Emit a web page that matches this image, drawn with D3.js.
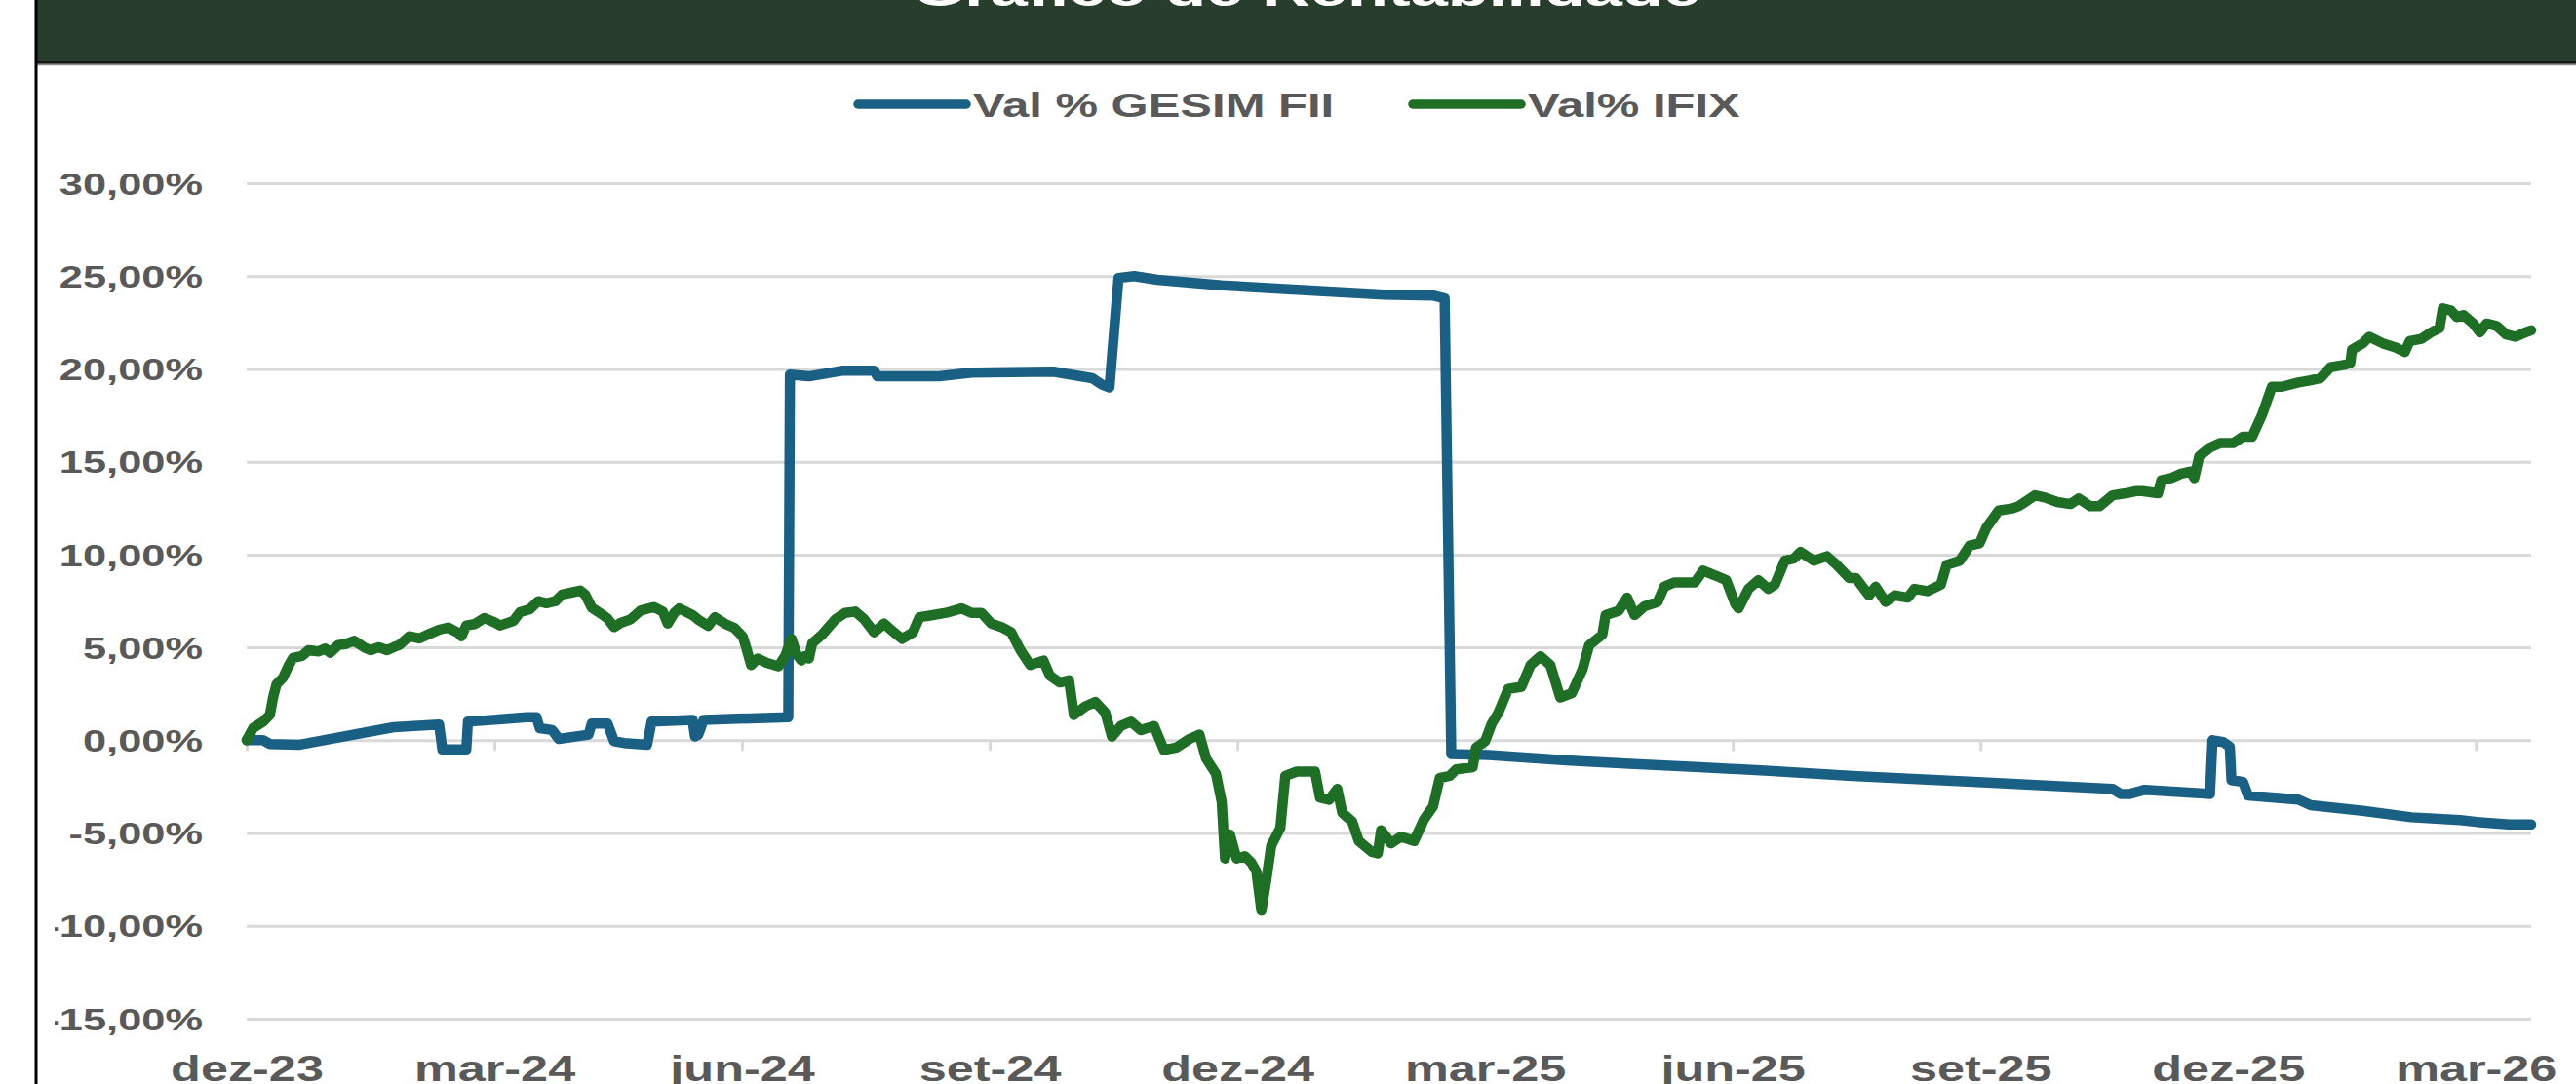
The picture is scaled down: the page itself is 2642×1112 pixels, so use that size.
<!DOCTYPE html>
<html>
<head>
<meta charset="utf-8">
<script src="https://cdn.jsdelivr.net/npm/d3@7"></script>
<style>
  html, body { margin: 0; padding: 0; background: #fff; }
  svg { display: block; }
  text { font-family: "Liberation Sans", Arial, sans-serif; font-weight: bold; }
</style>
</head>
<body>
<svg id="chart"></svg>
<script>
// series names and tick labels
const seriesNames = ["Val % GESIM FII", "Val% IFIX"];
const xTickMonths = [0, 3, 6, 9, 12, 15, 18, 21, 24, 27]; // months since dez-23
const xTickLabels = ["dez-23", "mar-24", "jun-24", "set-24", "dez-24", "mar-25", "jun-25", "set-25", "dez-25", "mar-26"];
const yTicks = [30, 25, 20, 15, 10, 5, 0, -5, -10, -15];
const lastMonth = 27.67;

// [months since dez-23, % change]
const gesim = [
  [0, 0], [0.2, 0], [0.28, -0.2], [0.63, -0.25], [1.78, 0.7], [2.33, 0.85], [2.37, -0.5], [2.66, -0.5],
  [2.68, 1.0], [3.0, 1.1], [3.39, 1.24], [3.51, 1.24], [3.55, 0.65], [3.7, 0.55], [3.78, 0.07], [4.14, 0.3],
  [4.18, 0.9], [4.37, 0.9], [4.45, -0.05], [4.57, -0.15], [4.85, -0.25], [4.905, 1.0], [5.4, 1.1], [5.43, 0.2],
  [5.47, 0.3], [5.535, 1.1], [6.56, 1.24], [6.58, 19.7], [6.81, 19.6], [7.21, 19.9], [7.6, 19.9], [7.64, 19.6],
  [8.39, 19.6], [8.78, 19.8], [9.77, 19.85], [10.24, 19.5], [10.36, 19.15], [10.45, 19.0], [10.56, 24.9],
  [10.75, 25.0], [11.03, 24.8], [11.81, 24.5], [12.21, 24.4], [12.99, 24.2], [13.78, 24.0], [14.37, 23.95],
  [14.51, 23.8], [14.59, -0.75], [15.04, -0.8], [16.03, -1.1], [16.81, -1.28], [17.6, -1.45], [18.39, -1.64],
  [19.45, -1.92], [21.03, -2.27], [22.6, -2.62], [22.7, -2.9], [22.8, -2.9], [22.99, -2.67], [23.66, -2.86],
  [23.78, -2.9], [23.81, 0], [23.94, -0.1], [24.02, -0.35], [24.04, -2.15], [24.18, -2.25], [24.24, -2.97],
  [24.85, -3.2], [25.0, -3.5], [25.63, -3.8], [26.22, -4.15], [26.81, -4.3], [27.01, -4.4], [27.4, -4.54],
  [27.67, -4.54]
];

const ifix = [
  [0, 0], [0.08, 0.66], [0.2, 1.0], [0.28, 1.36], [0.32, 2.3], [0.36, 3.0], [0.44, 3.37], [0.5, 3.95],
  [0.56, 4.43], [0.67, 4.54], [0.75, 4.85], [0.87, 4.78], [0.95, 4.94], [1.01, 4.71], [1.11, 5.13], [1.2, 5.18],
  [1.3, 5.36], [1.42, 5.01], [1.5, 4.85], [1.6, 5.01], [1.7, 4.85], [1.78, 5.01], [1.85, 5.13], [1.97, 5.6],
  [2.09, 5.48], [2.21, 5.72], [2.33, 5.95], [2.44, 6.07], [2.56, 5.79], [2.6, 5.6], [2.66, 6.18], [2.76, 6.25],
  [2.88, 6.58], [3.0, 6.35], [3.07, 6.18], [3.23, 6.42], [3.31, 6.89], [3.43, 7.06], [3.53, 7.49], [3.63, 7.38],
  [3.74, 7.49], [3.82, 7.85], [3.94, 7.96], [4.04, 8.06], [4.1, 7.85], [4.18, 7.14], [4.3, 6.79], [4.37, 6.56],
  [4.45, 6.09], [4.53, 6.32], [4.65, 6.51], [4.77, 6.98], [4.93, 7.17], [5.04, 6.93], [5.1, 6.28], [5.18, 6.86],
  [5.24, 7.1], [5.4, 6.74], [5.48, 6.46], [5.59, 6.16], [5.67, 6.63], [5.79, 6.28], [5.91, 6.04], [6.01, 5.57],
  [6.05, 4.99], [6.11, 4.05], [6.19, 4.4], [6.3, 4.17], [6.44, 3.98], [6.52, 4.52], [6.6, 5.46], [6.66, 4.64],
  [6.72, 4.29], [6.76, 4.52], [6.81, 4.4], [6.85, 5.22], [6.97, 5.69], [7.13, 6.51], [7.25, 6.86], [7.37, 6.93],
  [7.48, 6.51], [7.6, 5.81], [7.72, 6.28], [7.84, 5.81], [7.94, 5.46], [8.07, 5.81], [8.15, 6.63], [8.31, 6.74],
  [8.47, 6.86], [8.66, 7.1], [8.78, 6.86], [8.9, 6.86], [9.02, 6.28], [9.14, 6.1], [9.26, 5.81], [9.37, 4.87],
  [9.49, 4.05], [9.65, 4.29], [9.73, 3.47], [9.85, 3.11], [9.96, 3.23], [10.02, 1.36], [10.16, 1.83], [10.28, 2.06],
  [10.4, 1.48], [10.48, 0.19], [10.59, 0.77], [10.71, 1.0], [10.83, 0.54], [10.99, 0.77], [11.11, -0.52],
  [11.26, -0.4], [11.42, 0.07], [11.54, 0.3], [11.62, -0.98], [11.74, -1.8], [11.81, -3.33], [11.85, -6.37],
  [11.91, -5.08], [11.99, -6.37], [12.09, -6.25], [12.17, -6.6], [12.23, -7.07], [12.29, -9.18], [12.35, -7.54],
  [12.41, -5.67], [12.52, -4.73], [12.58, -1.92], [12.72, -1.69], [12.94, -1.69], [13.0, -3.09], [13.11, -3.21],
  [13.21, -2.62], [13.27, -3.91], [13.39, -4.38], [13.47, -5.43], [13.63, -6.02], [13.7, -6.1], [13.74, -4.85],
  [13.86, -5.55], [13.98, -5.2], [14.14, -5.43], [14.26, -4.26], [14.37, -3.56], [14.45, -2.04], [14.57, -1.92],
  [14.65, -1.57], [14.85, -1.45], [14.89, -0.4], [15.0, -0.05], [15.08, 0.89], [15.16, 1.48], [15.28, 2.76],
  [15.44, 2.88], [15.55, 4.05], [15.67, 4.52], [15.79, 4.05], [15.91, 2.3], [16.05, 2.53], [16.18, 3.82],
  [16.26, 5.11], [16.42, 5.69], [16.46, 6.74], [16.62, 6.98], [16.72, 7.68], [16.81, 6.74], [16.93, 7.21],
  [17.09, 7.45], [17.17, 8.27], [17.29, 8.5], [17.54, 8.5], [17.64, 9.13], [17.8, 8.85], [17.92, 8.62],
  [18.03, 7.33], [18.07, 7.1], [18.19, 8.15], [18.31, 8.62], [18.43, 8.15], [18.51, 8.38], [18.63, 9.67],
  [18.74, 9.79], [18.82, 10.14], [18.98, 9.67], [19.14, 9.91], [19.26, 9.44], [19.41, 8.74], [19.49, 8.74],
  [19.65, 7.8], [19.73, 8.27], [19.85, 7.45], [19.96, 7.8], [20.12, 7.68], [20.2, 8.15], [20.36, 8.03],
  [20.52, 8.38], [20.59, 9.44], [20.75, 9.67], [20.87, 10.49], [20.99, 10.61], [21.07, 11.43], [21.22, 12.37],
  [21.38, 12.48], [21.46, 12.6], [21.54, 12.83], [21.66, 13.19], [21.78, 13.07], [21.93, 12.83], [22.09, 12.72],
  [22.19, 13.02], [22.33, 12.6], [22.44, 12.6], [22.6, 13.19], [22.76, 13.3], [22.88, 13.42], [22.96, 13.42],
  [23.15, 13.3], [23.19, 14.0], [23.31, 14.12], [23.43, 14.36], [23.55, 14.47], [23.59, 14.12], [23.65, 15.29],
  [23.78, 15.76], [23.9, 16.0], [24.06, 16.0], [24.18, 16.35], [24.29, 16.35], [24.41, 17.52], [24.53, 19.04],
  [24.65, 19.04], [24.85, 19.27], [25.0, 19.39], [25.12, 19.51], [25.24, 20.09], [25.4, 20.21], [25.48, 20.33],
  [25.5, 21.03], [25.63, 21.38], [25.71, 21.73], [25.87, 21.38], [26.03, 21.15], [26.14, 20.91], [26.2, 21.5],
  [26.34, 21.62], [26.46, 21.97], [26.56, 22.2], [26.6, 23.26], [26.7, 23.14], [26.77, 22.79], [26.85, 22.9],
  [26.97, 22.44], [27.05, 21.97], [27.13, 22.44], [27.25, 22.32], [27.37, 21.85], [27.48, 21.73], [27.6, 21.97],
  [27.67, 22.08]
];

const WIDTH = 2642,
  HEIGHT = 1112,
  STRETCH = 1.4, // the source picture is stretched wide
  plot = { left: 253, right: 2596, top: 188, bottom: 1045 };
const colors = ["#1a5f84", "#1e6e26"];
const labelColor = "#595959";
const gridColor = "#d9d9d9";

const svg = d3.select("#chart").attr("width", WIDTH).attr("height", HEIGHT);

const x = d3.scaleLinear().domain([0, lastMonth]).range([plot.left, plot.right]);
const y = d3.scaleLinear().domain([-15, 30]).range([plot.bottom, plot.top]);

const ptBR = d3.formatLocale({
  decimal: ",",
  thousands: ".",
  grouping: [3],
  currency: ["R$", ""],
  minus: "-"
});
const pct = v => ptBR.format(".2f")(v) + "%";

svg.append("rect").attr("width", WIDTH).attr("height", HEIGHT).attr("fill", "#fff");

// header bar
svg.append("rect")
  .attr("x", 37).attr("y", 0)
  .attr("width", WIDTH - 37).attr("height", 64)
  .attr("fill", "#283d2c");
svg.append("line")
  .attr("x1", 37).attr("x2", WIDTH).attr("y1", 64.5).attr("y2", 64.5)
  .attr("stroke", "#111").attr("stroke-width", 2.5);
svg.append("line")
  .attr("x1", 37).attr("x2", WIDTH).attr("y1", 66.5).attr("y2", 66.5)
  .attr("stroke", "#8a8a8a").attr("stroke-width", 1.5);
svg.append("text")
  .text("Gráfico de Rentabilidade")
  .attr("text-anchor", "middle")
  .attr("fill", "#fff")
  .style("font-size", "49px")
  .attr("transform", `translate(1340,6) scale(${STRETCH},1)`);

// left border
svg.append("line")
  .attr("x1", 37).attr("x2", 37).attr("y1", 0).attr("y2", HEIGHT)
  .attr("stroke", "#000").attr("stroke-width", 3);

// clip the y labels the way the source crops them
svg.append("defs").append("clipPath").attr("id", "yclip")
  .append("rect")
  .attr("x", 56 - plot.left).attr("y", 0)
  .attr("width", WIDTH).attr("height", HEIGHT);

// y axis + gridlines
const yAxis = svg.append("g")
  .attr("transform", `translate(${plot.left},0)`)
  .attr("clip-path", "url(#yclip)")
  .call(d3.axisLeft(y).tickValues(yTicks).tickFormat(pct).tickSize(-(plot.right - plot.left)));
yAxis.attr("font-family", null).attr("font-size", null);
yAxis.select(".domain").remove();
yAxis.selectAll(".tick line").attr("stroke", gridColor).attr("stroke-width", 3);
yAxis.selectAll(".tick text")
  .attr("x", -45 / STRETCH)
  .attr("dy", "0.36em")
  .attr("transform", `scale(${STRETCH},1)`)
  .attr("fill", labelColor)
  .style("font-size", "31px");

// x axis ticks and labels
const xAxis = svg.append("g")
  .attr("transform", `translate(0,${y(0)})`)
  .call(d3.axisBottom(x).tickValues(xTickMonths).tickFormat((d, i) => xTickLabels[i]).tickSize(11));
xAxis.attr("font-family", null).attr("font-size", null);
xAxis.select(".domain").remove();
xAxis.selectAll(".tick line").attr("stroke", gridColor).attr("stroke-width", 3);
xAxis.selectAll(".tick text")
  .attr("y", 1109 - y(0))
  .attr("dy", 0)
  .attr("transform", `scale(${STRETCH},1)`)
  .attr("fill", labelColor)
  .style("font-size", "36px");

// series
const line = d3.line().x(d => x(d[0])).y(d => y(d[1]));
[gesim, ifix].forEach((data, i) => {
  svg.append("path")
    .datum(data)
    .attr("d", line)
    .attr("fill", "none")
    .attr("stroke", colors[i])
    .attr("stroke-width", 10.5)
    .attr("stroke-linejoin", "round")
    .attr("stroke-linecap", "round");
});

// legend
const legendX = [880, 1449];
const legend = svg.append("g")
  .selectAll("g")
  .data(seriesNames)
  .enter()
  .append("g")
  .attr("transform", (d, i) => `translate(${legendX[i]},107)`);
legend.append("line")
  .attr("x2", 111)
  .attr("stroke", (d, i) => colors[i])
  .attr("stroke-width", 9.5)
  .attr("stroke-linecap", "round");
legend.append("text")
  .text(d => d)
  .attr("fill", labelColor)
  .style("font-size", "35px")
  .attr("transform", `translate(118,12.5) scale(${STRETCH},1)`);
</script>
</body>
</html>
